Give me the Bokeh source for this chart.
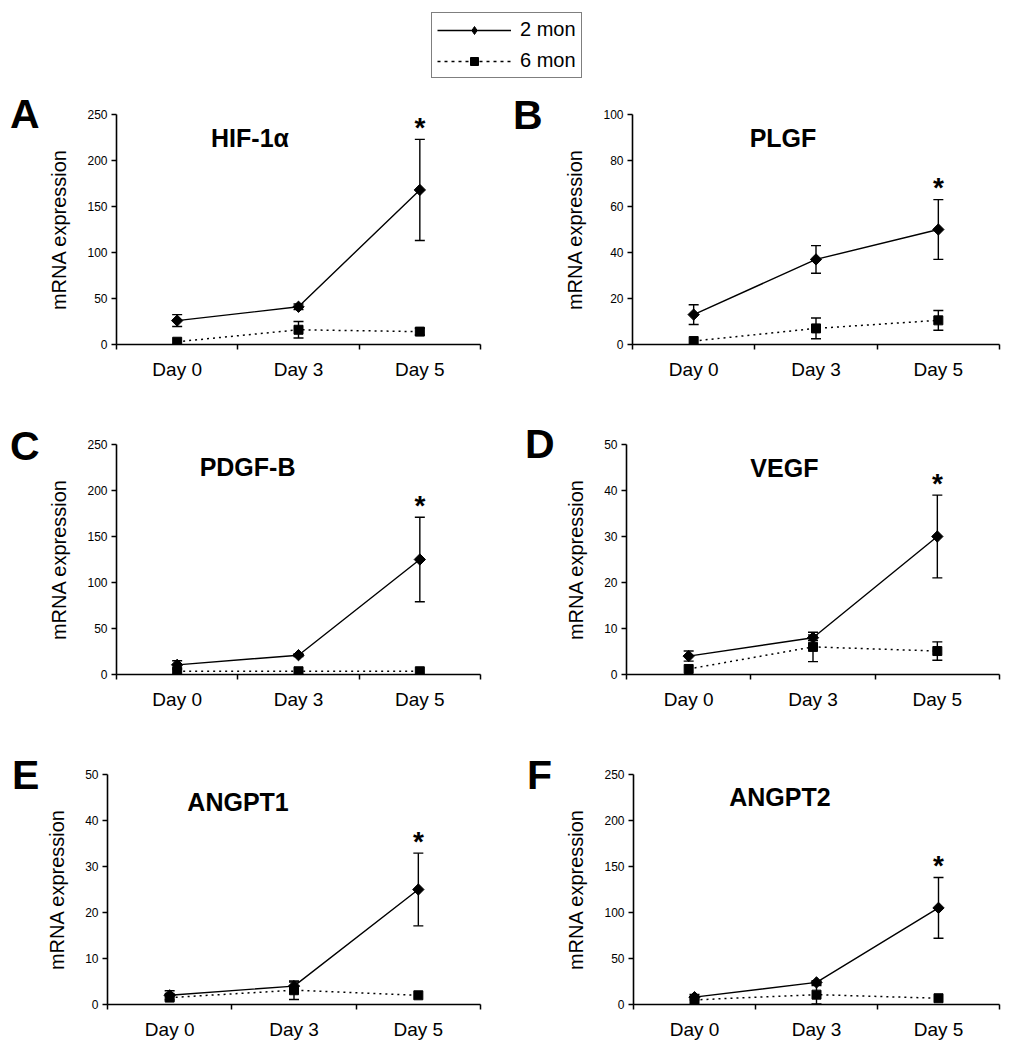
import math
from bokeh.plotting import figure
from bokeh.layouts import column, row
from bokeh.models import (Range1d, FixedTicker, Label, Whisker, ColumnDataSource,
                          Legend, LegendItem, TeeHead, Div)
from bokeh.embed import file_html
from bokeh.resources import INLINE

# ---------------- data ----------------
days = ["Day 0", "Day 3", "Day 5"]
series_names = ["2 mon", "6 mon"]
panel_letters = ["A", "B", "C", "D", "E", "F"]
genes = ["HIF-1\u03b1", "PLGF", "PDGF-B", "VEGF", "ANGPT1", "ANGPT2"]
y_max = [250, 100, 250, 50, 50, 250]
ticks_250 = [0, 50, 100, 150, 200, 250]
ticks_100 = [0, 20, 40, 60, 80, 100]
ticks_50 = [0, 10, 20, 30, 40, 50]

hif_2mon = [26, 41, 168]
hif_2mon_err = [6.5, 3, 55]
hif_6mon = [3, 16, 14]
hif_6mon_err = [0, 9, 3.6]

plgf_2mon = [13, 37, 50]
plgf_2mon_err = [4.3, 6, 13]
plgf_6mon = [1.5, 7, 10.5]
plgf_6mon_err = [0, 4.5, 4.3]

pdgfb_2mon = [10.5, 21, 125]
pdgfb_2mon_err = [4.5, 1.5, 46]
pdgfb_6mon = [3.5, 3.5, 3.5]
pdgfb_6mon_err = [0, 0, 0]

vegf_2mon = [4, 8, 30]
vegf_2mon_err = [1.1, 0.6, 9]
vegf_6mon = [1.2, 6, 5.1]
vegf_6mon_err = [0, 3.2, 2]

angpt1_2mon = [2, 4, 25]
angpt1_2mon_err = [1, 0.9, 7.9]
angpt1_6mon = [1.5, 3.1, 2]
angpt1_6mon_err = [0, 2, 0]

angpt2_2mon = [8, 24, 105]
angpt2_2mon_err = [3, 2, 33]
angpt2_6mon = [5, 10.7, 6.8]
angpt2_6mon_err = [0, 10, 0]

significant_day = "Day 5"

FONT = "Liberation Sans"

# letter strip: width, letter left padding, letter top padding; then panel geometry
panels = [
    dict(letter=panel_letters[0], gene=genes[0], ymax=y_max[0], ticks=ticks_250,
         v2=hif_2mon, e2=hif_2mon_err, v6=hif_6mon, e6=hif_6mon_err,
         lw=45, lx=10, pt=6,
         w=455, h=307, bl=68, br=20, bt=26, bb=51, title_xy=(1.1, 225)),
    dict(letter=panel_letters[1], gene=genes[1], ymax=y_max[1], ticks=ticks_100,
         v2=plgf_2mon, e2=plgf_2mon_err, v6=plgf_6mon, e6=plgf_6mon_err,
         lw=60, lx=13, pt=7,
         w=449, h=307, bl=72, br=10, bt=26, bb=51, title_xy=(1.23, 89.6)),
    dict(letter=panel_letters[2], gene=genes[2], ymax=y_max[2], ticks=ticks_250,
         v2=pdgfb_2mon, e2=pdgfb_2mon_err, v6=pdgfb_6mon, e6=pdgfb_6mon_err,
         lw=45, lx=10, pt=31,
         w=455, h=317, bl=70, br=20, bt=48, bb=38, title_xy=(1.08, 226)),
    dict(letter=panel_letters[3], gene=genes[3], ymax=y_max[3], ticks=ticks_50,
         v2=vegf_2mon, e2=vegf_2mon_err, v6=vegf_6mon, e6=vegf_6mon_err,
         lw=60, lx=25, pt=29,
         w=449, h=317, bl=66, br=10, bt=49, bb=36, title_xy=(1.27, 45)),
    dict(letter=panel_letters[4], gene=genes[4], ymax=y_max[4], ticks=ticks_50,
         v2=angpt1_2mon, e2=angpt1_2mon_err, v6=angpt1_6mon, e6=angpt1_6mon_err,
         lw=40, lx=12, pt=43,
         w=460, h=330, bl=67, br=20, bt=62, bb=38, title_xy=(1.05, 44)),
    dict(letter=panel_letters[5], gene=genes[5], ymax=y_max[5], ticks=ticks_250,
         v2=angpt2_2mon, e2=angpt2_2mon_err, v6=angpt2_6mon, e6=angpt2_6mon_err,
         lw=60, lx=27, pt=43,
         w=449, h=330, bl=73, br=10, bt=62, bb=35, title_xy=(1.2, 226)),
]

LW = 1.4
x_pos = [i + 0.5 for i in range(len(days))]


def err_source(vals, errs):
    xs, lo, hi = [], [], []
    for x, v, e in zip(x_pos, vals, errs):
        if e > 0:
            xs.append(x)
            lo.append(v - e)
            hi.append(v + e)
    return ColumnDataSource(dict(x=xs, lower=lo, upper=hi))


def blank_fig(w, h):
    f = figure(width=w, height=h, output_backend="svg", toolbar_location=None,
               x_range=Range1d(0, w), y_range=Range1d(0, h),
               min_border_left=0, min_border_right=0, min_border_top=0, min_border_bottom=0)
    f.axis.visible = False
    f.grid.visible = False
    f.outline_line_color = None
    return f


def letter_strip(d):
    html = (f'<div style="margin:0; padding-left:{d["lx"]}px; padding-top:{d["pt"]}px; '
            f"font-family:'{FONT}'; font-size:41px; font-weight:bold; line-height:41px; "
            f'color:black;">{d["letter"]}</div>')
    return Div(text=html, width=d["lw"], height=d["h"], margin=0)


def make_panel(d):
    p = figure(width=d["w"], height=d["h"], output_backend="svg", toolbar_location=None,
               x_range=Range1d(0, len(days)), y_range=Range1d(0, d["ymax"]),
               min_border_left=d["bl"], min_border_right=d["br"],
               min_border_top=d["bt"], min_border_bottom=d["bb"])
    p.outline_line_color = None
    p.grid.visible = False
    p.background_fill_color = "white"
    p.border_fill_color = "white"

    xa = p.xaxis[0]
    xa.ticker = FixedTicker(ticks=x_pos, minor_ticks=list(range(len(days) + 1)))
    xa.major_label_overrides = {x: lab for x, lab in zip(x_pos, days)}
    xa.major_tick_out = 0
    xa.major_tick_in = 0
    xa.minor_tick_out = 5
    xa.minor_tick_in = 0
    xa.minor_tick_line_color = "black"
    xa.minor_tick_line_width = 1.5
    xa.axis_line_width = 1.6
    xa.axis_line_color = "black"
    xa.major_label_text_font = FONT
    xa.major_label_text_font_size = "19px"
    xa.major_label_text_color = "black"
    xa.major_label_standoff = 9

    ya = p.yaxis[0]
    ya.ticker = FixedTicker(ticks=d["ticks"], minor_ticks=[])
    ya.major_tick_out = 5
    ya.major_tick_in = 0
    ya.major_tick_line_width = 1.3
    ya.axis_line_width = 1.6
    ya.axis_line_color = "black"
    ya.major_label_text_font = FONT
    ya.major_label_text_font_size = "12px"
    ya.major_label_text_color = "black"
    ya.major_label_standoff = 4
    ya.axis_label = "mRNA expression"
    ya.axis_label_text_font = FONT
    ya.axis_label_text_font_size = "20px"
    ya.axis_label_text_font_style = "normal"
    ya.axis_label_text_color = "black"
    ya.axis_label_standoff = 14

    for vals, errs in ((d["v2"], d["e2"]), (d["v6"], d["e6"])):
        src = err_source(vals, errs)
        w = Whisker(source=src, base="x", lower="lower", upper="upper", dimension="height",
                    line_color="black", line_width=LW,
                    upper_head=TeeHead(size=10, line_color="black", line_width=LW),
                    lower_head=TeeHead(size=10, line_color="black", line_width=LW))
        p.add_layout(w)

    p.line(x_pos, d["v6"], line_color="black", line_width=1.5, line_dash="2 4")
    p.line(x_pos, d["v2"], line_color="black", line_width=LW)
    p.scatter(x_pos, d["v6"], marker="square", size=9, color="black")
    p.scatter(x_pos, d["v2"], marker="square", angle=math.pi / 4, size=8, color="black")

    i = days.index(significant_day)
    p.text([x_pos[i]], [d["v2"][i] + d["e2"][i]], text=["*"], text_font_size="28px",
           text_font_style="bold", text_align="center", text_baseline="alphabetic",
           y_offset=-12, text_color="black", text_font={"value": FONT})

    tx, ty = d["title_xy"]
    p.add_layout(Label(x=tx, y=ty, text=d["gene"], text_font=FONT, text_font_size="25px",
                       text_font_style="bold", text_align="center", text_baseline="middle",
                       text_color="black"))
    return p


cells = [(letter_strip(d), make_panel(d)) for d in panels]

# ---------------- legend strip ----------------
lg = blank_fig(1009, 88)
off = [5000, 6000]  # sample points outside the visible range (legend swatches only)
r2l = lg.line(x=off, y=off, line_color="black", line_width=LW)
r2m = lg.scatter(x=off, y=off, marker="diamond", size=13, color="black")
r6l = lg.line(x=off, y=off, line_color="black", line_width=1.5, line_dash="3 4")
r6m = lg.scatter(x=off, y=off, marker="square", size=9, color="black")
legend = Legend(items=[LegendItem(label=series_names[0], renderers=[r2l, r2m]),
                       LegendItem(label=series_names[1], renderers=[r6l, r6m])],
                location=(431, 10), orientation="vertical",
                border_line_color="black", border_line_width=1.5,
                background_fill_color="white", background_fill_alpha=1.0,
                label_text_font=FONT, label_text_font_size="20px", label_text_color="black",
                glyph_width=74, glyph_height=20, label_height=20, label_standoff=9,
                spacing=8, padding=5, margin=0)
lg.add_layout(legend, "center")

rows = [row(cells[k][0], cells[k][1], cells[k + 1][0], cells[k + 1][1]) for k in (0, 2, 4)]
layout = column(lg, *rows)

with open("out.html", "w") as f:
    f.write(file_html(layout, INLINE))
